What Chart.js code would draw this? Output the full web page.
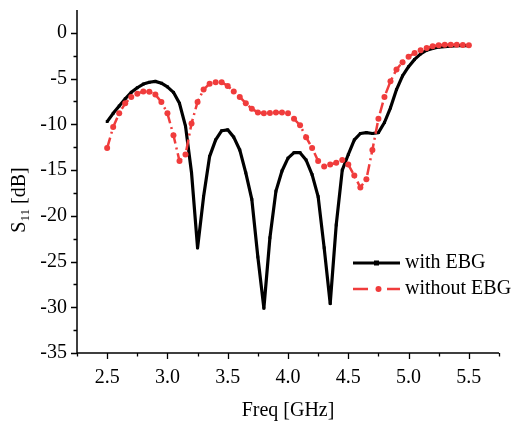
<!DOCTYPE html>
<html>
<head>
<meta charset="utf-8">
<script src="https://cdn.jsdelivr.net/npm/chart.js@4"></script>
<style>
  body { margin: 0; background: #fff; }
  canvas { display: block; }
</style>
</head>
<body>
<canvas id="chart" width="517" height="421"></canvas>
<script>
// frequency points (GHz)
const freq = [
  2.50, 2.55, 2.60, 2.65, 2.70, 2.75, 2.80, 2.85, 2.90, 2.95,
  3.00, 3.05, 3.10, 3.15, 3.20, 3.25, 3.30, 3.35, 3.40, 3.45,
  3.50, 3.55, 3.60, 3.65, 3.70, 3.75, 3.80, 3.85, 3.90, 3.95,
  4.00, 4.05, 4.10, 4.15, 4.20, 4.25, 4.30, 4.35, 4.40, 4.45,
  4.50, 4.55, 4.60, 4.65, 4.70, 4.75, 4.80, 4.85, 4.90, 4.95,
  5.00, 5.05, 5.10, 5.15, 5.20, 5.25, 5.30, 5.35, 5.40, 5.45,
  5.50
];
// S11 [dB]
const withEBG = [
  -9.7, -8.8, -8.0, -7.2, -6.5, -6.0, -5.6, -5.4, -5.3, -5.5,
  -5.9, -6.5, -7.7, -10.2, -15.3, -23.5, -17.9, -13.5, -11.7, -10.7,
  -10.6, -11.4, -12.8, -15.3, -18.2, -24.5, -30.1, -22.4, -17.3, -15.1,
  -13.7, -13.1, -13.1, -13.9, -15.5, -17.9, -23.5, -29.6, -21.0, -15.0,
  -13.3, -11.7, -11.0, -10.9, -11.0, -10.9, -9.8, -8.2, -6.2, -4.7,
  -3.7, -2.9, -2.3, -1.9, -1.7, -1.55, -1.5, -1.45, -1.4, -1.4,
  -1.4
];
const withoutEBG = [
  -12.6, -10.3, -8.8, -7.7, -7.0, -6.65, -6.4, -6.45, -6.75, -7.55,
  -8.8, -11.2, -14.0, -13.3, -9.9, -7.55, -6.2, -5.55, -5.4, -5.4,
  -5.8, -6.4, -7.0, -7.7, -8.3, -8.7, -8.8, -8.75, -8.7, -8.7,
  -8.8, -9.4, -10.1, -11.4, -12.6, -14.0, -14.6, -14.4, -14.2, -13.9,
  -14.4, -15.6, -16.9, -16.0, -12.8, -9.4, -7.0, -5.3, -4.0, -3.2,
  -2.6, -2.2, -1.9, -1.65, -1.46, -1.35, -1.3, -1.3, -1.3, -1.32,
  -1.35
];
const seriesNames = ['with EBG', 'without EBG'];
const xTitle = 'Freq [GHz]';
const yTitleParts = ['S', '11', ' [dB]'];

const FONT = '"Liberation Serif", "Times New Roman", serif';
const FS = 20;
const RED = '#f03c3c';

function pts(vals) {
  return freq.map((f, i) => ({ x: f, y: vals[i] }));
}

// axes lines, major/minor ticks, titles and legend
const decor = {
  id: 'decor',
  afterDraw(chart) {
    const ctx = chart.ctx, a = chart.chartArea;
    const xs = chart.scales.x, ys = chart.scales.y;
    ctx.save();
    ctx.strokeStyle = '#000';
    ctx.lineWidth = 1.5;
    ctx.beginPath();
    ctx.moveTo(a.left, a.top);
    ctx.lineTo(a.left, a.bottom);
    ctx.lineTo(a.right, a.bottom);
    ctx.stroke();

    ctx.lineWidth = 1.3;
    ctx.beginPath();
    xs.ticks.forEach(t => {
      const px = Math.round(xs.getPixelForValue(t.value)) + 0.5;
      const major = Math.abs(t.value * 2 - Math.round(t.value * 2)) < 1e-6;
      ctx.moveTo(px, a.bottom);
      ctx.lineTo(px, a.bottom + (major ? 6 : 3.5));
    });
    ys.ticks.forEach(t => {
      if (t.value > 0.1) return;
      const py = Math.round(ys.getPixelForValue(t.value)) + 0.5;
      const major = Math.abs(t.value % 5) < 1e-6;
      ctx.moveTo(a.left, py);
      ctx.lineTo(a.left - (major ? 6 : 3.5), py);
    });
    ctx.stroke();

    // axis titles
    ctx.fillStyle = '#000';
    ctx.font = FS + 'px ' + FONT;
    ctx.textAlign = 'center';
    ctx.textBaseline = 'alphabetic';
    ctx.fillText(xTitle, (a.left + a.right) / 2, 416);

    ctx.save();
    ctx.translate(25, 200);
    ctx.rotate(-Math.PI / 2);
    ctx.textAlign = 'left';
    const big = FS + 'px ' + FONT, small = '13px ' + FONT;
    ctx.font = big; const w0 = ctx.measureText(yTitleParts[0]).width;
    ctx.font = small; const w1 = ctx.measureText(yTitleParts[1]).width;
    ctx.font = big; const w2 = ctx.measureText(yTitleParts[2]).width;
    let x0 = -(w0 + w1 + w2) / 2;
    ctx.font = big; ctx.fillText(yTitleParts[0], x0, 0);
    ctx.font = small; ctx.fillText(yTitleParts[1], x0 + w0, 4);
    ctx.font = big; ctx.fillText(yTitleParts[2], x0 + w0 + w1, 0);
    ctx.restore();

    // legend
    const lx0 = 353, lx1 = 400, tx = 405;
    const rows = [263, 289];
    ctx.font = FS + 'px ' + FONT;
    ctx.textAlign = 'left';
    ctx.textBaseline = 'middle';
    // with EBG
    ctx.strokeStyle = '#000';
    ctx.lineWidth = 3;
    ctx.beginPath();
    ctx.moveTo(lx0, rows[0]); ctx.lineTo(lx1, rows[0]);
    ctx.stroke();
    ctx.fillStyle = '#000';
    ctx.fillRect((lx0 + lx1) / 2 - 2.5, rows[0] - 2.5, 5, 5);
    ctx.fillText(seriesNames[0], tx, rows[0]);
    // without EBG
    ctx.strokeStyle = RED;
    ctx.lineWidth = 2.5;
    ctx.beginPath();
    ctx.moveTo(lx0, rows[1]); ctx.lineTo(lx0 + 15, rows[1]);
    ctx.moveTo(lx1 - 13, rows[1]); ctx.lineTo(lx1, rows[1]);
    ctx.stroke();
    ctx.fillStyle = RED;
    ctx.beginPath();
    ctx.arc((lx0 + lx1) / 2 + 2, rows[1], 3, 0, Math.PI * 2);
    ctx.fill();
    ctx.fillStyle = '#000';
    ctx.fillText(seriesNames[1], tx, rows[1]);
    ctx.restore();
  }
};

new Chart(document.getElementById('chart'), {
  type: 'line',
  data: {
    datasets: [
      {
        label: seriesNames[0],
        data: pts(withEBG),
        borderColor: '#000',
        backgroundColor: '#000',
        borderWidth: 3.2,
        borderJoinStyle: 'round',
        pointStyle: 'rect',
        pointRadius: 2,
        pointBorderWidth: 0,
        tension: 0,
        order: 2
      },
      {
        label: seriesNames[1],
        data: pts(withoutEBG),
        borderColor: RED,
        backgroundColor: RED,
        borderWidth: 2.5,
        borderDash: [11, 4, 2, 4],
        borderJoinStyle: 'round',
        pointStyle: 'circle',
        pointRadius: 3,
        pointBorderWidth: 0,
        tension: 0,
        order: 1
      }
    ]
  },
  options: {
    responsive: false,
    animation: false,
    layout: { padding: { left: 0, right: 18, top: 10, bottom: 0 } },
    plugins: {
      legend: { display: false },
      tooltip: { enabled: false }
    },
    scales: {
      x: {
        type: 'linear',
        min: 2.25,
        max: 5.75,
        border: { display: false },
        grid: { display: true, drawOnChartArea: false, drawTicks: false, color: 'rgba(0,0,0,0)' },
        ticks: {
          stepSize: 0.25,
          autoSkip: false,
          maxRotation: 0,
          padding: 13,
          color: '#000',
          font: { family: FONT, size: FS },
          callback: v => (Math.abs(v * 2 - Math.round(v * 2)) < 1e-6 ? v.toFixed(1) : '')
        },
        afterFit: s => { s.height = 68; s.paddingLeft = 0; s.paddingRight = 0; }
      },
      y: {
        min: -35,
        max: 2.5,
        border: { display: false },
        grid: { display: true, drawOnChartArea: false, drawTicks: false, color: 'rgba(0,0,0,0)' },
        ticks: {
          stepSize: 2.5,
          autoSkip: false,
          padding: 10,
          color: '#000',
          font: { family: FONT, size: FS },
          callback: v => (Math.abs(v % 5) < 1e-6 && v <= 0 ? String(v) : '')
        },
        afterFit: s => { s.width = 77; s.paddingTop = 0; s.paddingBottom = 0; }
      }
    }
  },
  plugins: [decor]
});
</script>
</body>
</html>
